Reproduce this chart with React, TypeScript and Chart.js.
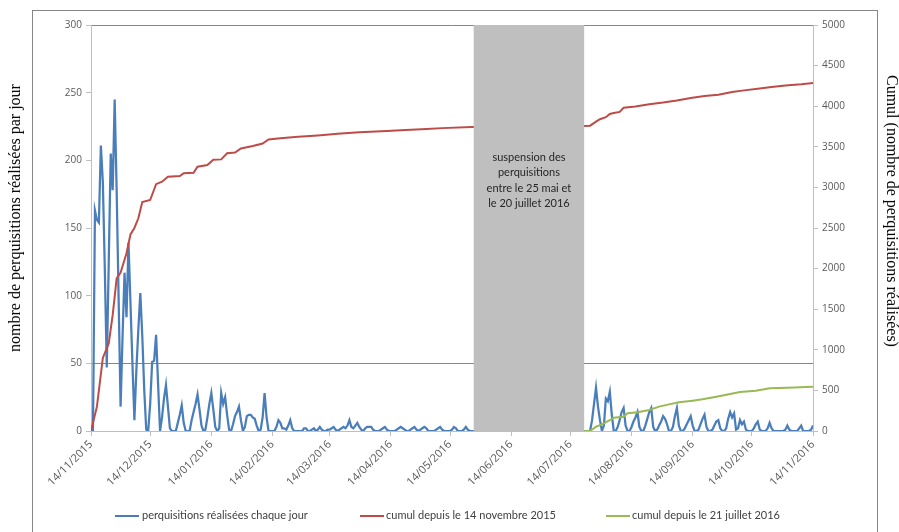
import React, { useEffect, useRef } from "react";
import { Chart, registerables } from "chart.js";

Chart.register(...registerables);

// x axis: day number counted from 14/11/2015 (day 0) to 14/11/2016 (day 366)
const tickDays = [0, 30, 61, 92, 121, 152, 182, 213, 243, 274, 305, 335, 366];
const tickLabels = [
  "14/11/2015", "14/12/2015", "14/01/2016", "14/02/2016", "14/03/2016", "14/04/2016",
  "14/05/2016", "14/06/2016", "14/07/2016", "14/08/2016", "14/09/2016", "14/10/2016", "14/11/2016",
];

// daily searches, days 0..193 (14/11/2015 -> 25/05/2016)
const dailyStartBefore = 0;
const dailyBefore = [
  0, 0, 163, 156, 154, 211, 184,
  120, 47, 125, 205, 178, 245, 178,
  98, 18, 70, 117, 84, 139, 95,
  50, 8, 45, 75, 102, 70, 30,
  1, 0, 20, 51, 52, 71, 35,
  0, 10, 24, 34, 18, 2, 0,
  0, 0, 6, 12, 19, 6, 0,
  0, 0, 8, 14, 20, 27, 16,
  4, 0, 1, 10, 20, 28, 16,
  3, 0, 2, 28, 20, 25, 12,
  1, 0, 5, 11, 14, 18, 8,
  0, 3, 11, 12, 12, 10, 9,
  4, 0, 1, 10, 28, 10, 0,
  0, 0, 0, 3, 8, 6, 2,
  2, 1, 4, 8, 2, 0, 0,
  0, 0, 0, 2, 2, 0, 0,
  1, 2, 0, 1, 3, 1, 0,
  0, 1, 1, 2, 3, 1, 0,
  1, 2, 3, 2, 4, 8, 3,
  2, 4, 6, 3, 1, 0, 2,
  3, 3, 3, 1, 0, 0, 0,
  1, 2, 3, 1, 0, 0, 0,
  0, 1, 2, 3, 2, 1, 0,
  0, 1, 2, 3, 1, 0, 1,
  2, 3, 2, 0, 0, 0, 0,
  1, 2, 3, 1, 0, 0, 0,
  0, 1, 3, 2, 0, 0, 0,
  1, 3, 1, 0, 0,
];

// daily searches, days 250..366 (21/07/2016 -> 14/11/2016)
const dailyStartAfter = 250;
const dailyAfter = [
  0, 0, 0, 0, 8, 20, 32,
  18, 8, 0, 4, 24, 22, 29,
  12, 0, 0, 3, 8, 14, 17,
  4, 0, 0, 3, 7, 10, 14,
  3, 0, 0, 4, 9, 14, 17,
  3, 0, 1, 4, 7, 11, 9,
  5, 0, 0, 3, 11, 17, 4,
  0, 0, 2, 5, 8, 11, 4,
  0, 0, 1, 5, 9, 12, 3,
  0, 0, 1, 4, 7, 8, 2,
  0, 0, 2, 9, 14, 10, 13,
  1, 2, 8, 5, 7, 1, 0,
  0, 0, 2, 5, 7, 1, 0,
  0, 0, 2, 6, 2, 0, 0,
  0, 0, 0, 0, 1, 4, 1,
  0, 0, 0, 0, 2, 4, 0,
  0, 0, 0, 1, 4,
];

// cumulative since 14/11/2015 (right axis)
const cumulDays = [
  0, 3, 6, 9, 11, 13, 15, 18, 20, 22, 24, 26, 30, 33, 36, 39, 45, 47, 52, 54, 59, 62, 66, 69,
  73, 76, 82, 87, 90, 96, 105, 115, 125, 136, 150, 157, 170, 178, 193, 250, 253, 256, 258,
  261, 263, 265, 268, 270, 276, 283, 290, 297, 304, 311, 318, 325, 331, 338, 345, 352, 360, 366,
];
const cumulValues = [
  0, 300, 900, 1080, 1430, 1880, 1950, 2190, 2420, 2500, 2620, 2820, 2845, 3040, 3070, 3130,
  3140, 3175, 3180, 3255, 3275, 3340, 3345, 3420, 3430, 3480, 3510, 3540, 3590, 3605, 3625,
  3640, 3660, 3680, 3695, 3705, 3720, 3730, 3745, 3755, 3760, 3810, 3840, 3865, 3905, 3915,
  3930, 3980, 3995, 4025, 4045, 4070, 4100, 4125, 4140, 4175, 4195, 4215, 4235, 4255, 4270, 4285,
];

// cumulative since 21/07/2016 (right axis)
const cumulJulyDays = [
  250, 253, 256, 259, 263, 265, 270, 272, 277, 283, 288, 293, 298, 305, 310, 317, 324, 329,
  337, 344, 353, 366,
];
const cumulJulyValues = [
  0, 0, 53, 82, 135, 164, 176, 218, 230, 259, 300, 328, 353, 373, 390, 422, 456, 480, 496,
  525, 533, 545,
];

const suspensionStartDay = 194;
const suspensionEndDay = 250;
const suspensionText = ["suspension des", "perquisitions", "entre le 25 mai et", "le 20 juillet 2016"];

const seriesNames = [
  "perquisitions réalisées chaque jour",
  "cumul depuis le 14 novembre 2015",
  "cumul depuis le 21 juillet 2016",
];
const seriesColors = ["#4a7ebb", "#be4b48", "#98b954"];

const TICK_FONT = "'Open Sans', sans-serif";

const suspensionPlugin = {
  id: "suspension",
  afterDatasetsDraw(chart: any) {
    const { ctx, chartArea, scales } = chart;
    const x0 = scales.x.getPixelForValue(suspensionStartDay);
    const x1 = scales.x.getPixelForValue(suspensionEndDay);
    ctx.save();
    ctx.fillStyle = "#bfbfbf";
    ctx.fillRect(x0, chartArea.top, x1 - x0, chartArea.bottom - chartArea.top);
    ctx.fillStyle = "#262626";
    ctx.font = "11px Lato, sans-serif";
    ctx.textAlign = "center";
    ctx.textBaseline = "middle";
    const cx = (x0 + x1) / 2;
    suspensionText.forEach((t, i) => {
      ctx.fillText(t, cx, chartArea.top + 132 + i * 15.5);
    });
    ctx.restore();
  },
};

export default function App() {
  const ref = useRef<HTMLCanvasElement | null>(null);

  useEffect(() => {
    if (!ref.current) return;
    const daily = [
      ...dailyBefore.map((v, i) => ({ x: dailyStartBefore + i, y: v })),
      ...dailyAfter.map((v, i) => ({ x: dailyStartAfter + i, y: v })),
    ];
    const cumul = cumulDays.map((d, i) => ({ x: d, y: cumulValues[i] }));
    const cumulJuly = cumulJulyDays.map((d, i) => ({ x: d, y: cumulJulyValues[i] }));

    const tickFont = { family: TICK_FONT, size: 10 };
    const chart = new Chart(ref.current, {
      type: "line",
      data: {
        datasets: [
          {
            label: seriesNames[0], data: daily, yAxisID: "y", borderColor: seriesColors[0],
            backgroundColor: seriesColors[0], borderWidth: 2.25, pointRadius: 0, tension: 0, order: 3,
          },
          {
            label: seriesNames[1], data: cumul, yAxisID: "y1", borderColor: seriesColors[1],
            backgroundColor: seriesColors[1], borderWidth: 2, pointRadius: 0, tension: 0, order: 2,
          },
          {
            label: seriesNames[2], data: cumulJuly, yAxisID: "y1", borderColor: seriesColors[2],
            backgroundColor: seriesColors[2], borderWidth: 2, pointRadius: 0, tension: 0, order: 1,
          },
        ],
      },
      options: {
        animation: false,
        responsive: false,
        devicePixelRatio: 1,
        layout: { padding: { top: 25, left: 0, right: 0, bottom: 0 } },
        plugins: { legend: { display: false }, tooltip: { enabled: false } },
        scales: {
          x: {
            type: "linear",
            min: 0,
            max: 366,
            afterBuildTicks: (s: any) => {
              s.ticks = tickDays.map((v) => ({ value: v }));
            },
            afterFit: (s: any) => {
              s.height = 101;
            },
            ticks: {
              autoSkip: false,
              minRotation: 45,
              maxRotation: 45,
              padding: 2,
              color: "#595959",
              font: { family: TICK_FONT, size: 11 },
              callback: (v: any) => {
                const k = tickDays.indexOf(Number(v));
                return k >= 0 ? tickLabels[k] : "";
              },
            },
            grid: { drawOnChartArea: false, tickLength: 5, color: "#bfbfbf" },
            border: { color: "#bfbfbf" },
          },
          y: {
            position: "left",
            min: 0,
            max: 300,
            afterFit: (s: any) => {
              s.width = 91;
            },
            ticks: { stepSize: 50, color: "#595959", font: tickFont, padding: 4, callback: (v: any) => String(v) },
            grid: {
              tickLength: 5,
              tickColor: "#bfbfbf",
              color: (c: any) =>
                c.tick && (c.tick.value === 50 || c.tick.value === 300) ? "#868686" : "rgba(0,0,0,0)",
            },
            border: { color: "#bfbfbf" },
          },
          y1: {
            position: "right",
            min: 0,
            max: 5000,
            afterFit: (s: any) => {
              s.width = 86;
            },
            ticks: { stepSize: 500, color: "#595959", font: tickFont, padding: 4, callback: (v: any) => String(v) },
            grid: { drawOnChartArea: false, tickLength: 5, color: "#bfbfbf" },
            border: { color: "#bfbfbf" },
          },
        },
      },
      plugins: [suspensionPlugin],
    } as any);
    return () => chart.destroy();
  }, []);

  const legendX = [
    { line: 115, text: 142 },
    { line: 360, text: 386 },
    { line: 606, text: 632 },
  ];

  return (
    <div
      style={{
        position: "absolute", left: 0, top: 0, width: 899, height: 532, overflow: "hidden",
        background: "#ffffff",
      }}
    >
      <div
        style={{
          position: "absolute", left: 32, top: 10, width: 846, height: 522, boxSizing: "border-box",
          borderTop: "1px solid #868686", borderLeft: "1px solid #868686", borderRight: "1px solid #868686",
        }}
      />
      <canvas ref={ref} width={899} height={532} style={{ position: "absolute", left: 0, top: 0, width: 899, height: 532 }} />
      <div
        style={{
          position: "absolute", left: 15, top: 218, transform: "translate(-50%, -50%) rotate(-90deg)",
          whiteSpace: "nowrap", font: "16px 'Liberation Serif', serif", color: "#000",
        }}
      >
        nombre de perquisitions réalisées par jour
      </div>
      <div
        style={{
          position: "absolute", left: 892, top: 211, transform: "translate(-50%, -50%) rotate(90deg)",
          whiteSpace: "nowrap", font: "16px 'Liberation Serif', serif", color: "#000",
        }}
      >
        Cumul (nombre de perquisitions réalisées)
      </div>
      {seriesNames.map((name, i) => (
        <React.Fragment key={name}>
          <div
            style={{
              position: "absolute", left: legendX[i].line, top: 515, width: 24, height: 2,
              background: seriesColors[i],
            }}
          />
          <div
            style={{
              position: "absolute", left: legendX[i].text, top: 508, whiteSpace: "nowrap",
              font: "11px Lato, sans-serif", color: "#404040",
            }}
          >
            {name}
          </div>
        </React.Fragment>
      ))}
    </div>
  );
}
